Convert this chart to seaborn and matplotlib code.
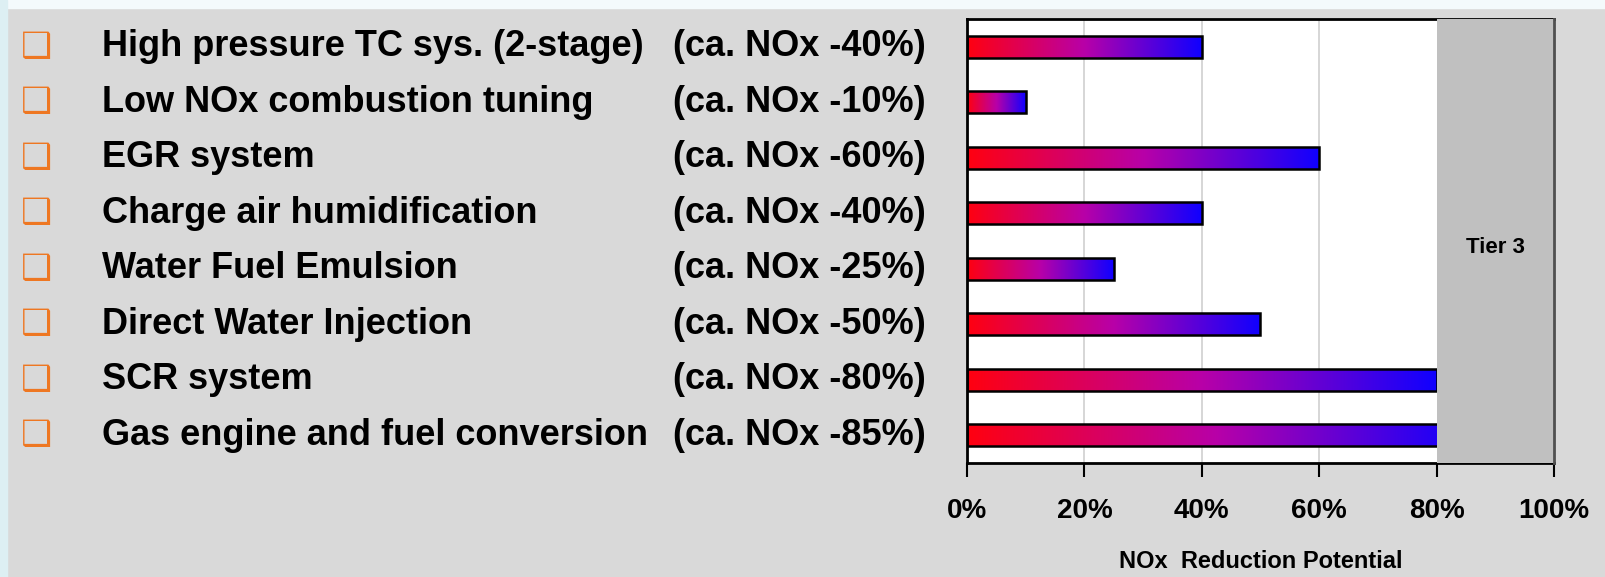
import numpy as np
import pandas as pd
import seaborn as sns
import matplotlib
matplotlib.use("Agg")
import matplotlib.pyplot as plt
import matplotlib.transforms as mtrans
from matplotlib.patches import Rectangle

# data
measures = ["High pressure TC sys. (2-stage)", "Low NOx combustion tuning",
            "EGR system", "Charge air humidification", "Water Fuel Emulsion",
            "Direct Water Injection", "SCR system", "Gas engine and fuel conversion"]
reduction = [40, 10, 60, 40, 25, 50, 80, 85]
tier3_limit = 80
xticks = [0, 20, 40, 60, 80, 100]

df = pd.DataFrame({"measure": measures, "reduction": reduction})

sns.set_theme(style="white")
plt.rcParams["font.family"] = ["Liberation Sans", "DejaVu Sans"]
plt.rcParams["text.color"] = "black"
plt.rcParams["xtick.color"] = "black"
plt.rcParams["axes.labelcolor"] = "black"

bg = "#D9D9D9"
fig = plt.figure(figsize=(16.06, 5.77), dpi=100, facecolor=bg)
# light strips at the top and left edge of the slide
fig.add_artist(Rectangle((0, 0.986), 1, 0.014, transform=fig.transFigure,
                         color="#F4FAFC", zorder=0))
fig.add_artist(Rectangle((0, 0), 0.0045, 1, transform=fig.transFigure,
                         color="#DDEFF3", zorder=0))

ax = fig.add_axes([967 / 1606, 1 - 463 / 577, (1554 - 967) / 1606, (463 - 19) / 577])
ax.set_facecolor("white")

sns.barplot(data=df, x="reduction", y="measure", orient="h", ax=ax,
            width=0.4, color="red", edgecolor="black", linewidth=1.8,
            saturation=1, zorder=2)

# red -> blue gradient inside each bar
grad = np.linspace(0, 1, 256).reshape(1, -1)
cmap = matplotlib.colors.LinearSegmentedColormap.from_list("rb", ["#FF0010", "#B800A8", "#1000FF"])
for p in ax.patches:
    x0, y0 = p.get_x(), p.get_y()
    w, h = p.get_width(), p.get_height()
    p.set_facecolor("none")
    im = ax.imshow(grad, cmap=cmap, aspect="auto", extent=(x0, x0 + w, y0 + h, y0),
                   zorder=1.9, interpolation="bilinear")
    im.set_clip_path(p)

ax.set_xlim(0, 100)
ax.set_ylim(7.5, -0.5)

# Tier 3 band
ax.axvspan(tier3_limit, 100, color="#C0C0C0", zorder=3, lw=0)
ax.text((tier3_limit + 100) / 2, 0.485, "Tier 3", transform=ax.get_xaxis_transform(),
        ha="center", va="center", fontsize=16, fontweight="bold", zorder=4)

for x in xticks[1:4]:
    ax.axvline(x, color="#CFCFCF", lw=1.2, zorder=1)

for s in ["left", "bottom", "top"]:
    ax.spines[s].set_visible(True)
    ax.spines[s].set_color("black")
    ax.spines[s].set_linewidth(2)
ax.spines["right"].set_color("#505050")
ax.spines["right"].set_linewidth(2)
ax.spines["right"].set_zorder(5)

ax.set_xticks(xticks)
ax.set_xticklabels([f"{t}%" for t in xticks], fontsize=20, fontweight="bold")
ax.tick_params(axis="x", bottom=True, direction="out", length=10, width=1.5,
               color="black", labelcolor="black", pad=15)
ax.set_yticks([])
ax.set_ylabel("")
ax.set_xlabel("NOx  Reduction Potential", fontsize=17, fontweight="bold",
              labelpad=19, color="black")

# left-hand list aligned with the bars
tr = mtrans.blended_transform_factory(fig.transFigure, ax.transData)
for i, (m, v) in enumerate(zip(measures, reduction)):
    ax.text(36 / 1606, i, "\u2751", transform=tr, ha="center", va="center",
            fontsize=25, color="#EE7722", family="DejaVu Sans")
    ax.text(102 / 1606, i, m, transform=tr, ha="left", va="center",
            fontsize=26, fontweight="bold", color="black")
    ax.text(673 / 1606, i, f"(ca. NOx -{v}%)", transform=tr, ha="left", va="center",
            fontsize=26, fontweight="bold", color="black")

fig.savefig("out.png", dpi=100, facecolor=bg)
